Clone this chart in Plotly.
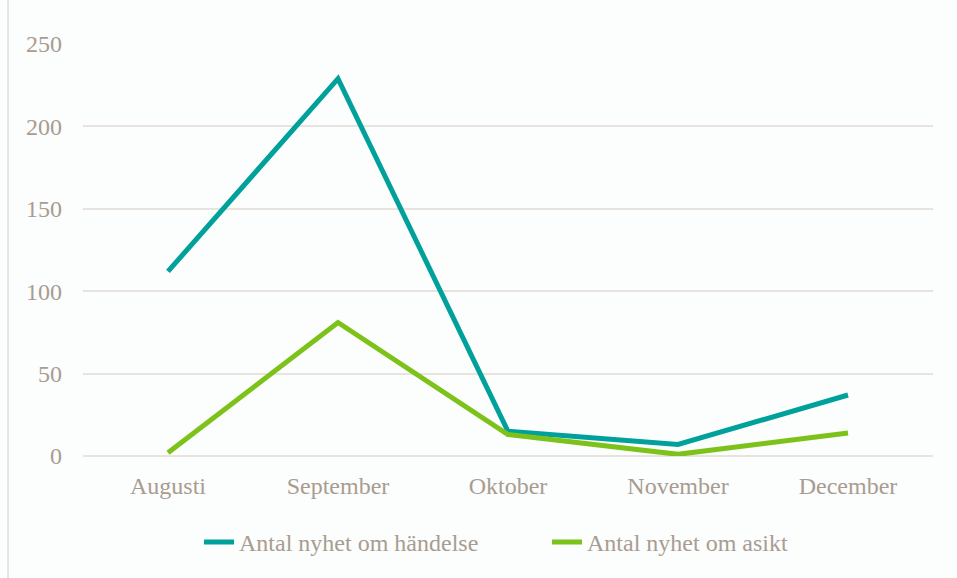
import plotly.graph_objects as go

months = ["Augusti", "September", "Oktober", "November", "December"]
handelse = [112, 229, 15, 7, 37]
asikt = [2, 81, 13, 1, 14]

text_color = "#A89C91"
font_family = "Liberation Serif, Times New Roman, serif"
fs = 24

fig = go.Figure()
fig.add_trace(go.Scatter(x=months, y=handelse, mode="lines", name="Antal nyhet om händelse",
                         line=dict(color="#00A19B", width=5)))
fig.add_trace(go.Scatter(x=months, y=asikt, mode="lines", name="Antal nyhet om asikt",
                         line=dict(color="#7DC21A", width=5)))

fig.update_layout(
    width=957, height=578,
    margin=dict(l=83, r=24, t=44, b=122, autoexpand=False),
    paper_bgcolor="#FCFDFD",
    plot_bgcolor="#FCFDFD",
    font=dict(family=font_family, size=fs, color=text_color),
    showlegend=True,
    legend=dict(orientation="h", x=0.1365, xanchor="left", y=-0.155, yanchor="top",
                font=dict(size=fs, color=text_color), itemwidth=30, tracegroupgap=0,
                entrywidth=303, entrywidthmode="pixels", bgcolor="rgba(0,0,0,0)"),
    xaxis=dict(range=[-0.5, 4.5], showgrid=False, showline=False, zeroline=False, ticks="",
               ticklabelstandoff=13, tickfont=dict(size=fs, color=text_color)),
    yaxis=dict(range=[0, 250], tickvals=[0, 50, 100, 150, 200, 250],
               showgrid=True, gridcolor="#E8E3DF", gridwidth=1.5,
               zeroline=True, zerolinecolor="#E8E3DF", zerolinewidth=1.5,
               showline=False, ticks="", ticklabelstandoff=20,
               tickfont=dict(size=fs, color=text_color)),
    shapes=[dict(type="line", xref="paper", yref="paper", x0=-0.0882, x1=-0.0882, y0=-0.3, y1=1.2,
                 line=dict(color="#E3DDD8", width=1.5))],
)

fig.write_html("out.html", config={"displayModeBar": False},
               post_script="document.body.style.margin='0';document.body.style.padding='0';")
